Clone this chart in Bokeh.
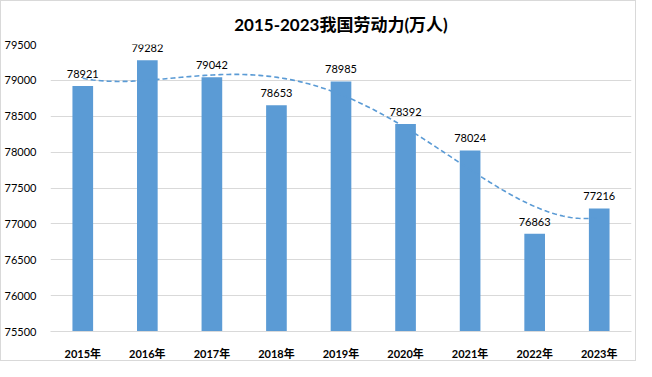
import numpy as np
from bokeh.plotting import figure
from bokeh.models import Range1d, FixedTicker, ColumnDataSource
from bokeh.core.properties import value
from bokeh.embed import file_html
from bokeh.resources import INLINE

years = ["2015年", "2016年", "2017年", "2018年", "2019年", "2020年", "2021年", "2022年", "2023年"]
labor = [78921, 79282, 79042, 78653, 78985, 78392, 78024, 76863, 77216]
y_ticks = [75500, 76000, 76500, 77000, 77500, 78000, 78500, 79000, 79500]
title_text = "2015-2023我国劳动力(万人)"

idx = np.arange(1, len(years) + 1)
src = ColumnDataSource(dict(x=idx, top=labor, lab=[str(v) for v in labor]))

FONT = "Lato, 'Noto Sans CJK SC'"

p = figure(width=636, height=361, output_backend="svg", toolbar_location=None,
           x_range=Range1d(0.5, len(years) + 0.5), y_range=Range1d(75500, 79500),
           min_border_left=41, min_border_right=6, min_border_top=43, min_border_bottom=25,
           title=title_text)
p.styles = {"border": "1px solid #d9d9d9"}
p.title.align = "center"
p.title.text_font = FONT
p.title.text_font_size = "17px"
p.title.text_font_style = "bold"
p.title.text_color = "#000000"
p.title.standoff = 20

p.outline_line_color = None
p.background_fill_color = "white"
p.border_fill_color = "white"

p.xgrid.visible = False
p.ygrid.grid_line_color = "#d9d9d9"
p.ygrid.grid_line_width = 1
p.yaxis.ticker = FixedTicker(ticks=y_ticks)
p.xaxis.ticker = FixedTicker(ticks=list(idx))
p.xaxis.major_label_overrides = {int(i): y for i, y in zip(idx, years)}

p.yaxis.axis_line_color = None
p.yaxis.major_tick_line_color = None
p.yaxis.minor_tick_line_color = None
p.yaxis.major_label_text_font = FONT
p.yaxis.major_label_text_font_size = "11px"
p.yaxis.major_label_text_color = "#000000"
p.yaxis.major_label_standoff = 8

p.xaxis.axis_line_color = "#d9d9d9"
p.xaxis.major_tick_line_color = None
p.xaxis.minor_tick_line_color = None
p.xaxis.major_label_text_font = FONT
p.xaxis.major_label_text_font_size = "11px"
p.xaxis.major_label_text_font_style = "bold"
p.xaxis.major_label_text_color = "#000000"
p.xaxis.major_label_standoff = 9

p.vbar(x="x", top="top", bottom=75500, width=0.32, source=src,
       fill_color="#5b9bd5", line_color=None)

# polynomial trend line fitted to the data (like the spreadsheet trendline)
coef = np.polyfit(idx, labor, 4)
tx = np.linspace(1, len(years), 200)
ty = np.polyval(coef, tx)
p.line(tx, ty, line_color="#5b9bd5", line_width=1.6, line_dash="5 3")

p.text(x="x", y="top", text="lab", source=src, text_align="center",
       text_baseline="bottom", y_offset=-8, text_font=value(FONT),
       text_font_size="11px", text_color="#000000")

open("out.html", "w").write(file_html(p, INLINE))
